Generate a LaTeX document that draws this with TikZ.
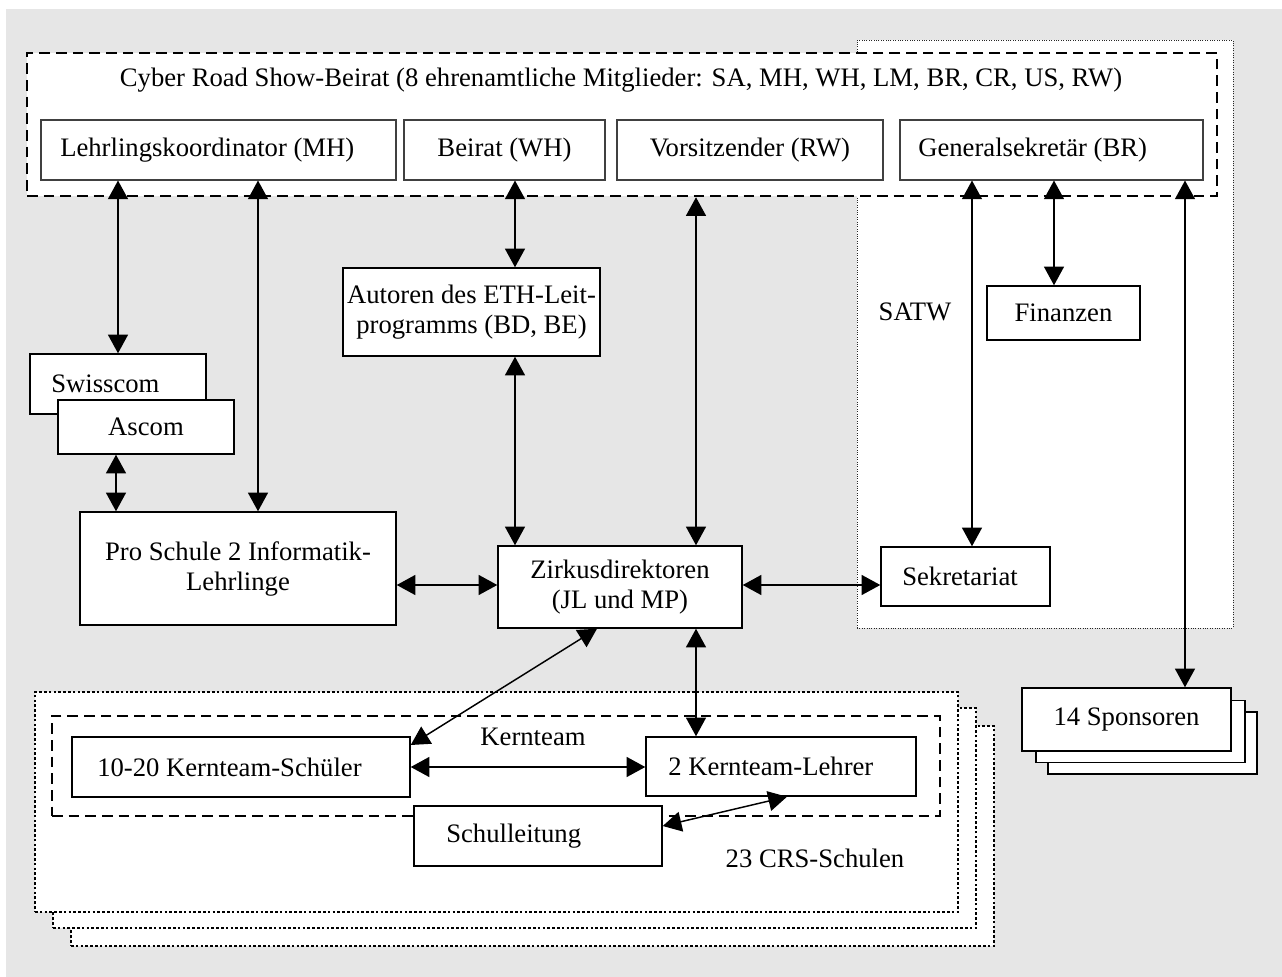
\documentclass[tikz,border=0pt]{standalone}
\usepackage{fontspec}
\setmainfont{Liberation Serif}
\usetikzlibrary{arrows.meta}
\definecolor{bggray}{RGB}{230,230,230}
\begin{document}
\begin{tikzpicture}[x=0.75pt,y=-0.75pt,
  every node/.style={font=\fontsize{20}{22.5}\selectfont, inner sep=0pt},
  sz/.style 2 args={minimum width=#1*0.75pt, minimum height=#2*0.75pt},
  box/.style={draw=black, line width=1.1pt, fill=white, rectangle, align=center},
  tbox/.style={draw=black!75, line width=0.8pt, fill=white, rectangle, align=center},
  arr/.style={line width=1.1pt, {Triangle[width=15pt,length=14pt]}-{Triangle[width=15pt,length=14pt]}},
  dsh/.style={draw=black, line width=1.9pt, dash pattern=on 8pt off 4.5pt, fill=white},
  dotthick/.style={draw=black, line width=2pt, dash pattern=on 2pt off 1.6pt, fill=white},
  dotthin/.style={draw=black!85, line width=0.7pt, dash pattern=on 0.7pt off 1.1pt, fill=white},
  txt/.style={anchor=west}]

\useasboundingbox (0,0) rectangle (1282,977);
\fill[bggray] (6,9) rectangle (1282,977);

% SATW region
\node[dotthin, sz={376}{588}] (satw) at (1045,334) {};
\node (satwt) at (915,312) {SATW};

% Beirat dashed box
\node[dsh, sz={1190}{143}] (beirat) at (622,124.5) {};
\node (title) at (621,80) {Cyber Road Show-Beirat (8 ehrenamtliche Mitglieder: SA, MH, WH, LM, BR, CR, US, RW)};

% top row
\node[tbox, sz={355}{60}] (lk) at (218.5,150) {};
\node[txt] (lkt) at (60,150) {Lehrlingskoordinator (MH)};
\node[tbox, sz={201}{60}] (bw) at (504.5,150) {Beirat (WH)};
\node[tbox, sz={266}{60}] (vs) at (750,150) {Vorsitzender (RW)};
\node[tbox, sz={303}{60}] (gs) at (1051.5,150) {};
\node[txt] (gst) at (918,150) {Generalsekretär (BR)};

% middle
\node[box, sz={257}{88}] (au) at (471.5,312) {Autoren des ETH-Leit-\\programms (BD, BE)};
\node[box, sz={153}{54}] (fi) at (1063.5,313) {Finanzen};
\node[box, sz={176}{60}] (sw) at (118,384) {};
\node[txt] (swt) at (51,384) {Swisscom};
\node[box, sz={176}{54}] (as) at (146,427) {Ascom};
\node[box, sz={316}{113}] (ps) at (238,568.5) {Pro Schule 2 Informatik-\\Lehrlinge};
\node[box, sz={244}{82}] (zk) at (620,587) {Zirkusdirektoren\\(JL und MP)};
\node[box, sz={169}{59}] (sk) at (965.5,576.5) {};
\node[txt] (skt) at (902,576.5) {Sekretariat};

% CRS schools stack
\node[dotthick, sz={923}{220}] (crs3) at (532.5,836) {};
\node[dotthick, sz={923}{220}] (crs2) at (514.5,818) {};
\node[dotthick, sz={923}{220}] (crs1) at (496.5,802) {};
\node[dsh, sz={888}{100}] (kt) at (496,766) {};
\node (ktt) at (533,737) {Kernteam};
\node[box, sz={338}{60}] (ks) at (241,767) {};
\node[txt] (kst) at (97,767) {10-20 Kernteam-Schüler};
\node[box, sz={270}{59}] (kl) at (781,766.5) {};
\node[txt] (klt) at (668,766.5) {2 Kernteam-Lehrer};
\node[box, sz={248}{60}] (sl) at (538,836) {};
\node[txt] (slt) at (446,836) {Schulleitung};
\node (crst) at (815,858) {23 CRS-Schulen};

% sponsors stack
\node[box, sz={209}{62}] (sp3) at (1152.5,743) {};
\node[box, sz={209}{62}] (sp2) at (1140.5,731.5) {};
\node[box, sz={209}{63}] (sp1) at (1126.5,719.5) {14 Sponsoren};

% connectors
\draw[arr] (lk.south -| 118,0) -- (sw.north -| 118,0);
\draw[arr] (lk.south -| 258,0) -- (ps.north -| 258,0);
\draw[arr] (bw.south -| 515,0) -- (au.north -| 515,0);
\draw[arr] (au.south -| 515,0) -- (zk.north -| 515,0);
\draw[arr] (beirat.south -| 696,0) -- (zk.north -| 696,0);
\draw[arr] (gs.south -| 972,0) -- (sk.north -| 972,0);
\draw[arr] (gs.south -| 1054,0) -- (fi.north -| 1054,0);
\draw[arr] (gs.south -| 1185,0) -- (sp1.north -| 1185,0);
\draw[arr] (as.south -| 116,0) -- (ps.north -| 116,0);
\draw[arr] (ps.east |- 0,585) -- (zk.west |- 0,585);
\draw[arr] (zk.east |- 0,585) -- (sk.west |- 0,585);
\draw[arr] (zk.south -| 597,0) -- (ks.east |- 0,745);
\draw[arr] (zk.south -| 696,0) -- (kl.north -| 696,0);
\draw[arr] (ks.east |- 0,767) -- (kl.west |- 0,767);
\draw[arr] (kl.south -| 787,0) -- (sl.east |- 0,826);
\end{tikzpicture}
\end{document}
